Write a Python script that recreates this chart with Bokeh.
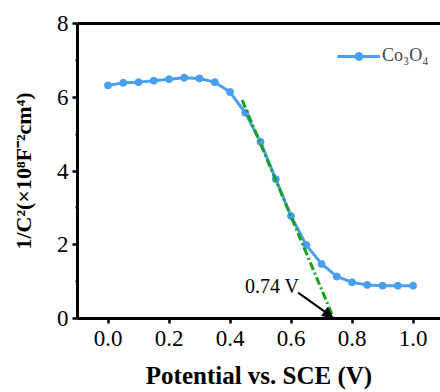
from bokeh.plotting import figure
from bokeh.models import (Range1d, FixedTicker, LinearAxis, Legend, LegendItem,
                          Arrow, NormalHead, CustomJSTickFormatter, ColumnDataSource)
from bokeh.core.properties import value
from bokeh.embed import file_html
from bokeh.resources import INLINE

# Mott-Schottky data for Co3O4
potential = [0.00, 0.05, 0.10, 0.15, 0.20, 0.25, 0.30, 0.35, 0.40, 0.45, 0.50,
             0.55, 0.60, 0.65, 0.70, 0.75, 0.80, 0.85, 0.90, 0.95, 1.00]
inv_c2 = [6.32, 6.39, 6.41, 6.45, 6.49, 6.53, 6.51, 6.41, 6.14, 5.58, 4.79,
          3.78, 2.78, 1.99, 1.48, 1.14, 0.98, 0.91, 0.89, 0.89, 0.89]

# linear fit of the depletion region, extrapolated to the flat-band potential
flat_band = 0.74
fit_x = [0.44, flat_band]
fit_y = [5.92, 0.0]

# annotation: label and arrow pointing at the intercept
label_text = ["0.74 V"]
label_x = [0.449]
label_y = [0.87]
arrow_start = (0.623, 0.70)

x_ticks = [0.0, 0.2, 0.4, 0.6, 0.8, 1.0]
y_ticks = [0, 2, 4, 6, 8]

SERIF = "Liberation Serif"
BLUE = "#4a9eef"
GREEN = "#18a018"

p = figure(width=440, height=392, output_backend="svg", toolbar_location=None,
           x_range=Range1d(-0.1, 1.09), y_range=Range1d(0, 8),
           min_border_left=77, min_border_right=0, min_border_top=23,
           min_border_bottom=74)
p.outline_line_color = None
p.grid.visible = False
p.background_fill_color = "white"
p.border_fill_color = "white"

# axes styling
for ax in (p.xaxis[0], p.yaxis[0]):
    ax.axis_line_width = 3
    ax.axis_line_color = "black"
    ax.major_tick_line_width = 2.5
    ax.major_tick_line_color = "black"
    ax.major_tick_out = 5
    ax.major_tick_in = 0
    ax.major_label_text_font = SERIF
    ax.major_label_text_font_size = "23px"
    ax.major_label_text_color = "black"
    ax.axis_label_text_font = SERIF
    ax.axis_label_text_font_style = "bold"
    ax.axis_label_text_color = "black"

p.xaxis[0].ticker = FixedTicker(ticks=x_ticks)
p.xaxis[0].formatter = CustomJSTickFormatter(code="return tick.toFixed(1);")
p.xaxis[0].minor_tick_line_color = None
p.xaxis[0].major_label_standoff = 7
p.xaxis[0].axis_label = "Potential vs. SCE (V)"
p.xaxis[0].axis_label_text_font_size = "25px"
p.xaxis[0].axis_label_standoff = 13

p.yaxis[0].ticker = FixedTicker(ticks=y_ticks, minor_ticks=[1, 3, 5, 7])
p.yaxis[0].formatter = CustomJSTickFormatter(code="return tick.toFixed(0);")
p.yaxis[0].minor_tick_line_color = "black"
p.yaxis[0].minor_tick_line_width = 2
p.yaxis[0].minor_tick_out = 2
p.yaxis[0].minor_tick_in = 0
p.yaxis[0].major_label_standoff = 4
p.yaxis[0].axis_label = "1/C²(×10⁸F⁻²cm⁴)"
p.yaxis[0].axis_label_text_font_size = "22px"
p.yaxis[0].axis_label_standoff = 18

# top frame line
top = LinearAxis(ticker=FixedTicker(ticks=[]), axis_line_width=3,
                 axis_line_color="black", major_label_text_font_size="0px",
                 major_tick_line_color=None, minor_tick_line_color=None)
p.add_layout(top, "above")

src = ColumnDataSource(dict(x=potential, y=inv_c2))
line = p.line("x", "y", source=src, line_color=BLUE, line_width=3)
dots = p.scatter("x", "y", source=src, size=7, fill_color=BLUE, line_color=BLUE)

p.line(fit_x, fit_y, line_color=GREEN, line_width=3, line_dash="8 3 2 3")

p.text(label_x, label_y, text=label_text, text_font=value(SERIF),
       text_font_size="20px", text_color="black", text_baseline="alphabetic",
       text_align="left")

p.add_layout(Arrow(end=NormalHead(size=10, fill_color="black", line_color="black"),
                   x_start=arrow_start[0], y_start=arrow_start[1],
                   x_end=flat_band - 0.003, y_end=0.03,
                   line_color="black", line_width=2))

legend = Legend(items=[LegendItem(label="Co₃O₄", renderers=[line, dots])],
                location=(260, 252), glyph_width=43, glyph_height=20,
                label_standoff=2, padding=0, margin=0, spacing=0,
                label_text_font=SERIF, label_text_font_size="18px",
                border_line_color=None, background_fill_alpha=0)
p.add_layout(legend, "center")

open("out.html", "w").write(file_html(p, INLINE))
